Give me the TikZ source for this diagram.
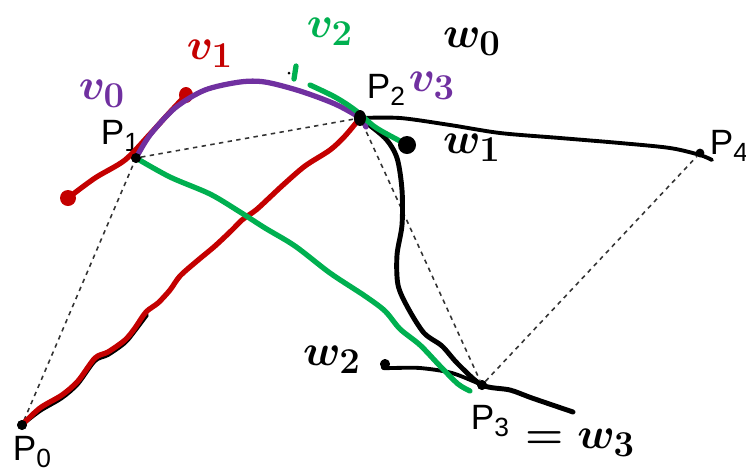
\documentclass[tikz,border=0pt]{standalone}
\usepackage{fontspec}
\setsansfont{Liberation Sans}
\usetikzlibrary{positioning}

\definecolor{penred}{RGB}{196,0,0}
\definecolor{pengreen}{RGB}{0,176,80}
\definecolor{penpurple}{RGB}{112,48,160}

\newcommand{\ptname}[1]{P\raisebox{-0.22em}{\fontsize{15}{15}\selectfont #1}}

\begin{document}
\begin{tikzpicture}[
        x=0.02cm, y=-0.02cm,
        ptdot/.style={
            circle,
            fill=black,
            inner sep=0pt,
            minimum size=5.5pt
        },
        plabel/.style={
            font=\sffamily\fontsize{20}{22}\selectfont,
            inner sep=0pt
        },
        pen/.style={
            font=\boldmath\fontsize{31}{33}\selectfont,
            inner sep=0pt
        },
        guide/.style={draw=black!80, dash pattern=on 2.5pt off 2.5pt, line width=0.9pt},
        ink/.style={line width=2.8pt, line cap=round, line join=round}
    ]

        \useasboundingbox (0,0) rectangle (746,471);

        % control points
        \node[ptdot] (P0) at (22,425) {};
        \node[ptdot] (P1) at (136,158) {};
        \node[ptdot, minimum size=7pt] (P2) at (360,118) {};
        \node[ptdot] (P3) at (482,385) {};
        \node[ptdot, minimum size=5pt] (P4) at (700,153) {};

        \node[plabel] (l0) at (32,452) {\ptname{0}};
        \node[plabel] (l1) at (120,136) {\ptname{1}};
        \node[plabel] (l2) at (386,90) {\ptname{2}};
        \node[plabel] (l3) at (490,421) {\ptname{3}};
        \node[plabel] (l4) at (729,146) {\ptname{4}};

        % control polygon
        \draw[guide] (P0) -- (P1);
        \draw[guide] (P1) -- (P2);
        \draw[guide] (P2) -- (P3);
        \draw[guide] (P3) -- (P4);

        % free ends of the strokes
        \coordinate (r0) at (68,198);
        \coordinate (r1) at (186,95);
        \coordinate (g0) at (310,85);
        \coordinate (g1) at (470,391);
        \coordinate (w1end) at (407,145);
        \coordinate (w2end) at (385,364);
        \coordinate (w3end) at (573,412);
        \coordinate (w4end) at (712,160);

        % black strokes
        \draw[ink, line width=2.2pt] plot[smooth] coordinates {(P0) (40,411) (62,398) (78,384) (95,361)
            (108,355) (125,343) (135,331) (147,315)};
        \draw[ink, line width=2.2pt] plot[smooth] coordinates {(P2) (400,118) (450,125) (500,133)
            (560,138) (620,143) (670,148) (700,155) (w4end)};
        \draw[ink] plot[smooth] coordinates {(P2) (385,138) (397,158) (402,190) (402,225) (397,255)
            (398,285) (408,308) (424,333) (442,346) (458,364) (P3) (510,390) (532,398) (w3end)};
        \draw[ink, line width=2.2pt] plot[smooth] coordinates {(w2end) (383,368) (392,368) (420,368)
            (452,373) (P3)};
        \draw[ink, line width=2.2pt] (w2end) circle (3);

        % red strokes
        \draw[ink, penred, line width=3pt] plot[smooth] coordinates {(P0) (40,408) (62,395) (78,381) (95,358)
            (108,352) (125,340) (135,328) (146,312) (158,303) (170,290) (180,276) (197,261)
            (215,246) (232,230) (242,220) (256,210) (268,199) (283,185) (305,166) (330,150)
            (345,136) (P2)};
        \draw[ink, penred, line width=3pt] plot[smooth] coordinates {(r0) (95,178) (125,160) (150,134) (170,112) (r1)};
        \fill[penred] (r0) circle (8);
        \fill[penred] (r1) ellipse (7 and 8);

        % purple stroke
        \draw[ink, penpurple, line width=3pt] plot[smooth] coordinates {(P1) (150,135) (175,108) (205,90) (240,82)
            (265,82) (300,91) (335,104) (P2) (366,127)};

        % green strokes
        \draw[ink, pengreen, line width=3pt] plot[smooth] coordinates {(g0) (335,97) (355,110) (375,127) (398,140) (w1end)};
        \draw[ink, pengreen, line width=3pt] plot[smooth] coordinates {(P1) (170,177) (210,194) (240,212) (265,228)
            (295,246) (330,273) (365,296) (385,311) (400,329) (420,345) (440,366) (458,384) (g1)};
        \draw[ink, pengreen, line width=3pt] (296,66) -- (294,79);
        \fill (289,73) circle (1.5);

        \fill (w1end) circle (9);
        \fill (P2) ellipse (6 and 8);
        \fill (P1) circle (5);
        \fill (P0) circle (5);
        \fill (P3) circle (5);

        % handwritten labels
        \node[pen, text=penpurple] (v0) at (102,94) {$v_0$};
        \node[pen, text=penred] (v1) at (210,54) {$v_1$};
        \node[pen, text=pengreen] (v2) at (330,32) {$v_2$};
        \node[pen, text=penpurple] (v3) at (432,86) {$v_3$};
        \node[pen] (w0) at (472,42) {$w_0$};
        \node[pen] (w1) at (472,148) {$w_1$};
        \node[pen] (w2) at (332,360) {$w_2$};
        \node[pen] (w3) at (580,443) {$=w_3$};

\end{tikzpicture}
\end{document}
